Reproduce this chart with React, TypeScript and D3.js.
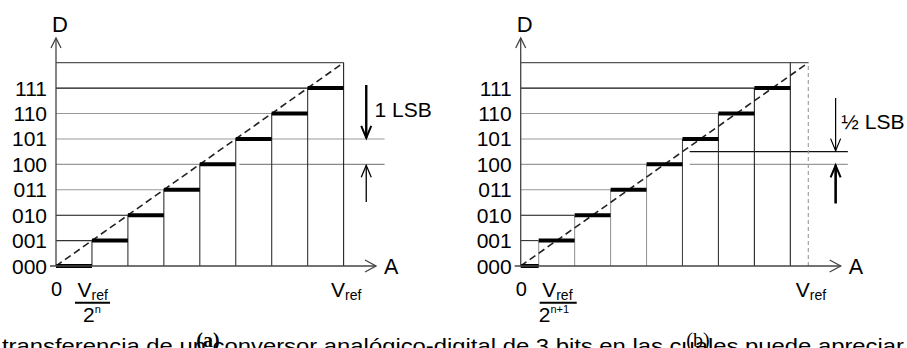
import * as d3 from "d3";

// output codes and their levels (in LSB units)
const CODES = ["000", "001", "010", "011", "100", "101", "110", "111"];
const LEVELS = [0, 1, 2, 3, 4, 5, 6, 7];

// where each code's step starts / ends on the A axis (units of Vref/8)
const STEP_START_A = [0, 1, 2, 3, 4, 5, 6, 7];
const STEP_END_A = [1, 2, 3, 4, 5, 6, 7, 8];
const STEP_START_B = [0, 0.5, 1.5, 2.5, 3.5, 4.5, 5.5, 6.5];
const STEP_END_B = [0.5, 1.5, 2.5, 3.5, 4.5, 5.5, 6.5, 7.5];

// tone of the thin line drawn at each level
const LINE_TONE = ["#111", "#333", "#111", "#999", "#999", "#999", "#999", "#111"];
const VERT_TONE_B = ["#999", "#999", "#999", "#999", "#999", "#444", "#333", "#222"];

const FULL = 8;
const FONT = "'Liberation Sans', Arial, sans-serif";

const y = d3.scaleLinear().domain([0, FULL]).range([266, 62.7]);

type PanelProps = {
  x0: number;
  starts: number[];
  ends: number[];
  half: boolean;
};

const chevron = (x: number, yTip: number, dir: "up" | "down" | "right", s = 6, l = 11) => {
  if (dir === "up") return `M${x - s},${yTip + l}L${x},${yTip}L${x + s},${yTip + l}`;
  if (dir === "down") return `M${x - s},${yTip - l}L${x},${yTip}L${x + s},${yTip - l}`;
  return `M${x - l},${yTip - s}L${x},${yTip}L${x - l},${yTip + s}`;
};

const Panel = ({ x0, starts, ends, half }: PanelProps) => {
  const x = d3.scaleLinear().domain([0, FULL]).range([x0, x0 + 287.6]);
  const last = ends[ends.length - 1];
  const diag = d3.line<[number, number]>()
    .x((d) => x(d[0]))
    .y((d) => y(d[1]));

  return (
    <g>
      {/* top bound */}
      <line x1={x(0)} x2={x(FULL)} y1={y(FULL)} y2={y(FULL)} stroke="#555" strokeWidth={1.2} />

      {/* thin level lines */}
      {LEVELS.map((lv, i) =>
        i === 0 ? null : (
          <line key={"h" + i} x1={x(0)} x2={x(starts[i])} y1={y(lv)} y2={y(lv)}
            stroke={LINE_TONE[i]} strokeWidth={1.1} />
        )
      )}

      {/* LSB reference extensions */}
      {half ? (
        <g>
          <line x1={x(4.7)} x2={x(9.1)} y1={y(4)} y2={y(4)} stroke="#999" strokeWidth={1.1} />
          <line x1={x(4.7)} x2={x(9.1)} y1={y(4.5)} y2={y(4.5)} stroke="#111" strokeWidth={1.1} />
        </g>
      ) : (
        <g>
          <line x1={x(5.1)} x2={x(9.14)} y1={y(4)} y2={y(4)} stroke="#888" strokeWidth={1.1} />
          <line x1={x(5)} x2={x(9.14)} y1={y(5)} y2={y(5)} stroke="#999" strokeWidth={1.1} />
        </g>
      )}

      {/* verticals at step edges */}
      {LEVELS.map((lv, i) =>
        i === 0 ? null : (
          <line key={"v" + i} x1={x(starts[i])} x2={x(starts[i])} y1={y(0)} y2={y(lv)}
            stroke={half ? VERT_TONE_B[i] : "#333"} strokeWidth={1.1} />
        )
      )}
      <line x1={x(last)} x2={x(last)} y1={y(0)} y2={y(FULL)} stroke="#222" strokeWidth={1.1} />
      {half && (
        <line x1={x(FULL)} x2={x(FULL)} y1={y(0)} y2={y(FULL)} stroke="#999"
          strokeWidth={1.1} strokeDasharray="4,3" />
      )}

      {/* ideal transfer line */}
      <path d={diag([[0, 0], [FULL, FULL]]) || ""} fill="none" stroke="#222"
        strokeWidth={1.6} strokeDasharray="7,4" />

      {/* quantized steps */}
      {LEVELS.map((lv, i) => (
        <line key={"s" + i} x1={x(starts[i])} x2={x(ends[i])} y1={y(lv)} y2={y(lv)}
          stroke="#000" strokeWidth={4} />
      ))}

      {/* axes */}
      <line x1={x(0)} x2={x(0)} y1={y(0)} y2={38} stroke="#444" strokeWidth={1.3} />
      <path d={chevron(x(0), 38, "up", 5, 10)} fill="none" stroke="#444" strokeWidth={1.3} />
      <line x1={x(0) - 6} x2={x(0) + 320} y1={y(0)} y2={y(0)} stroke="#444" strokeWidth={1.3} />
      <path d={chevron(x(0) + 320, y(0), "right", 6, 11)} fill="none" stroke="#444" strokeWidth={1.3} />

      <text x={x(0) + 4} y={31.5} fontSize={22} textAnchor="middle" fontFamily={FONT}>D</text>
      <text x={x(0) + 328} y={y(0) + 7.5} fontSize={21.5} fontFamily={FONT}>A</text>

      {/* code labels */}
      {CODES.map((c, i) => (
        <text key={"c" + i} x={x(0) - 9} y={y(LEVELS[i])} dy="0.36em" fontSize={21}
          textAnchor="end" fontFamily={FONT}>{c}</text>
      ))}

      {/* A axis labels */}
      <text x={x(0) + 0.5} y={296} fontSize={20} textAnchor="middle" fontFamily={FONT}>0</text>
      <g fontFamily={FONT}>
        <text x={x(0) + 21.5} y={296.5} fontSize={21}>
          V<tspan fontSize={14} dy={3}>ref</tspan>
        </text>
        <line x1={x(0) + 19} x2={x(0) + (half ? 56 : 54)} y1={302.7} y2={302.7} stroke="#000" strokeWidth={2} />
        <text x={x(0) + (half ? 18 : 27)} y={321.5} fontSize={21}>
          2<tspan fontSize={11} dy={-9}>{half ? "n+1" : "n"}</tspan>
        </text>
        <text x={x(FULL) - 12.5} y={296.5} fontSize={21}>
          V<tspan fontSize={14} dy={3}>ref</tspan>
        </text>
      </g>

      {/* LSB annotation */}
      {half ? (
        <g>
          <line x1={x(8.76)} x2={x(8.76)} y1={98} y2={y(4.5) - 1} stroke="#000" strokeWidth={1.2} />
          <path d={chevron(x(8.76), y(4.5) - 1, "down", 5, 12)} fill="none" stroke="#000" strokeWidth={1.2} />
          <line x1={x(8.76)} x2={x(8.76)} y1={203.5} y2={y(4) + 1} stroke="#000" strokeWidth={2.6} />
          <path d={chevron(x(8.76), y(4) + 1, "up", 5, 12)} fill="none" stroke="#000" strokeWidth={2} />
          <text x={x(8.92)} y={128.5} fontSize={21} fontFamily={FONT}>½ LSB</text>
        </g>
      ) : (
        <g>
          <line x1={x(8.63)} x2={x(8.63)} y1={85} y2={y(5) - 1} stroke="#000" strokeWidth={2.4} />
          <path d={chevron(x(8.63), y(5) - 1, "down", 5, 12)} fill="none" stroke="#000" strokeWidth={2} />
          <line x1={x(8.63)} x2={x(8.63)} y1={202} y2={y(4) + 1} stroke="#000" strokeWidth={1.3} />
          <path d={chevron(x(8.63), y(4) + 1, "up", 5, 12)} fill="none" stroke="#000" strokeWidth={1.3} />
          <text x={x(8.86)} y={117} fontSize={21} fontFamily={FONT}>1 LSB</text>
        </g>
      )}
    </g>
  );
};

export default function App() {
  return (
    <svg width={907} height={348} style={{ position: "absolute", left: 0, top: 0, background: "#fff" }}>
      <rect width={907} height={348} fill="#fff" />
      <Panel x0={56} starts={STEP_START_A} ends={STEP_END_A} half={false} />
      <Panel x0={520.7} starts={STEP_START_B} ends={STEP_END_B} half={true} />
      <text x={2} y={353} fontSize={21} fontFamily={FONT} textLength={902} lengthAdjust="spacingAndGlyphs">
        transferencia de un conversor analógico-digital de 3 bits en las cuales puede apreciar
      </text>
      <text x={208} y={347} fontSize={20} fontWeight="bold" textAnchor="middle"
        fontFamily="'Liberation Serif', 'Times New Roman', serif">(a)</text>
      <text x={698} y={347} fontSize={20} textAnchor="middle"
        fontFamily="'Liberation Serif', 'Times New Roman', serif">(b)</text>
    </svg>
  );
}
